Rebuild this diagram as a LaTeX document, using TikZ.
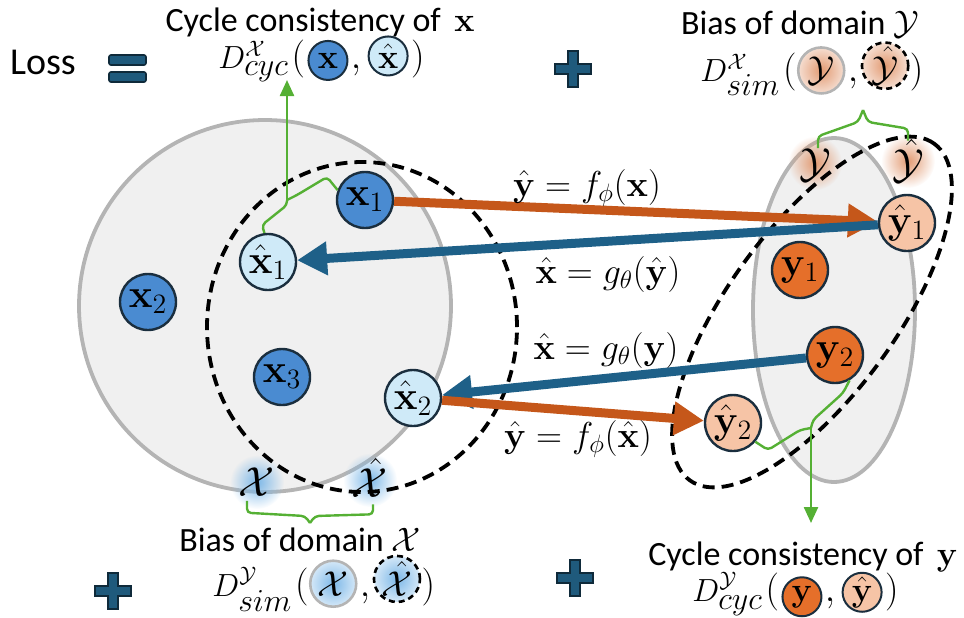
\RequirePackage{fix-cm}
\documentclass[tikz,border=0pt]{standalone}
\usepackage[no-math]{fontspec}
\setmainfont{Carlito}
\usepackage{amsmath}
\usetikzlibrary{arrows.meta,positioning,fadings}
\definecolor{xblue}{HTML}{4A8BD1}
\definecolor{xlight}{HTML}{CFEAF8}
\definecolor{yorange}{HTML}{E56F2A}
\definecolor{ypeach}{HTML}{F6C4A6}
\definecolor{nline}{HTML}{1A2E3E}
\definecolor{orarr}{HTML}{C5571A}
\definecolor{blarr}{HTML}{1E6088}
\definecolor{grline}{HTML}{55B034}
\definecolor{gbg}{HTML}{F0F0F0}
\definecolor{gline}{HTML}{B4B4B4}
\definecolor{eqf}{HTML}{1F5A7C}
\definecolor{eqd}{HTML}{0F2A3A}
\definecolor{glowx}{HTML}{7DB8E8}
\definecolor{glowy}{HTML}{E29A72}
\tikzfading[name=glowfade, inner color=transparent!0, outer color=transparent!100]
\tikzset{
  plus/.pic={\filldraw[fill=eqf, draw=eqd, line width=0.8pt] (-18,-5) -- (-5,-5) -- (-5,-18) -- (5,-18) -- (5,-5) -- (18,-5) -- (18,5) -- (5,5) -- (5,18) -- (-5,18) -- (-5,5) -- (-18,5) -- cycle;}
}

\begin{document}
\begin{tikzpicture}[
  x=0.5pt, y=0.5pt,
  xn/.style={circle, draw=nline, line width=1.2pt, fill=xblue, minimum size=28pt, inner sep=0pt, font=\fontsize{20}{20}\selectfont},
  xh/.style={xn, fill=xlight},
  yn/.style={xn, fill=yorange},
  yh/.style={xn, fill=ypeach},
  sx/.style={circle, draw=nline, line width=1pt, minimum size=19.5pt, inner sep=0pt, font=\fontsize{17}{17}\selectfont},
  sdom/.style={circle, draw=gline, line width=1.3pt, minimum size=23pt, inner sep=0pt, font=\fontsize{18}{18}\selectfont},
  sdomd/.style={sdom, draw=black, dash pattern=on 3pt off 2pt},
  glw/.style={path picture={\fill[#1, path fading=glowfade] (path picture bounding box.center) circle (34);}},
  dfm/.style={inner sep=0pt, font=\fontsize{16}{16}\selectfont},
  par/.style={inner sep=0pt, font=\fontsize{19}{19}\selectfont},
  ttl/.style={inner sep=0pt, font=\fontsize{17}{20}\selectfont},
  lbl/.style={inner sep=0pt, font=\fontsize{18}{18}\selectfont},
  dom/.style={inner sep=0pt, font=\fontsize{21}{21}\selectfont},
  ar/.style={line width=4.5pt, -{Triangle[length=15pt,width=16pt]}},
  orr/.style={ar, orarr},
  blr/.style={ar, blarr},
  grn/.style={grline, line width=1.2pt, rounded corners=2pt},
  dsh/.style={black, line width=1.9pt, dash pattern=on 6pt off 3.5pt}
]
\useasboundingbox (0,0) rectangle (964,-617);

\filldraw[fill=gbg, draw=gline, line width=1.9pt] (265,-306) circle (186);
\filldraw[fill=gbg, draw=gline, line width=1.9pt] (834,-310) ellipse [x radius=81, y radius=172];

\fill[glowx, path fading=glowfade] (257,-482) circle (27);
\fill[glowx, path fading=glowfade] (370,-480) circle (27);
\fill[glowy, path fading=glowfade] (815,-163) circle (27);
\fill[glowy, path fading=glowfade] (908,-161) circle (27);

\draw[dsh] (362,-327) ellipse [x radius=155, y radius=165];
\draw[dsh, rotate around={54:(812,-312)}] (812,-312) ellipse [x radius=208, y radius=84];

\node[dom] (lx) at (257,-482) {$\mathcal{X}$};
\node[dom] (lxh) at (370,-478) {$\hat{\mathcal{X}}$};
\node[dom] (ly) at (815,-165) {$\mathcal{Y}$};
\node[dom] (lyh) at (908,-161) {$\hat{\mathcal{Y}}$};

\node[xn] (x1) at (365,-200) {$\mathbf{x}_1$};
\node[xh] (xh1) at (268,-262) {$\hat{\mathbf{x}}_1$};
\node[xn] (x2) at (148,-302) {$\mathbf{x}_2$};
\node[xn] (x3) at (282,-377) {$\mathbf{x}_3$};
\node[xh] (xh2) at (413,-398) {$\hat{\mathbf{x}}_2$};
\node[yh] (yh1) at (907,-223) {$\hat{\mathbf{y}}_1$};
\node[yn] (y1) at (800,-270) {$\mathbf{y}_1$};
\node[yn] (y2) at (835,-355) {$\mathbf{y}_2$};
\node[yh] (yh2) at (733,-423) {$\hat{\mathbf{y}}_2$};

\draw[orr] (x1) -- (yh1);
\draw[blr] (yh1) -- (xh1);
\draw[blr] (y2) -- (xh2);
\draw[orr] (xh2) -- (yh2);

\node[lbl] (lf1) at (587,-188) {$\hat{\mathbf{y}} = f_\phi(\mathbf{x})$};
\node[lbl] (lg1) at (608,-274) {$\hat{\mathbf{x}} = g_\theta(\hat{\mathbf{y}})$};
\node[lbl] (lg2) at (606,-350) {$\hat{\mathbf{x}} = g_\theta(\mathbf{y})$};
\node[lbl] (lf2) at (578,-439) {$\hat{\mathbf{y}} = f_\phi(\hat{\mathbf{x}})$};

\node[font=\fontsize{19}{20}\selectfont, inner sep=0pt] (loss) at (43,-62) {Loss};
\filldraw[fill=eqf, draw=eqd, line width=0.8pt, rounded corners=1pt] (109,-55) rectangle (146,-65);
\filldraw[fill=eqf, draw=eqd, line width=0.8pt, rounded corners=1pt] (109,-72) rectangle (146,-82);
\pic (pl1) at (573,-69) {plus};
\pic (pl2) at (113,-591) {plus};
\pic (pl3) at (575,-578) {plus};

\node[ttl] (tcx) at (320,-22) {Cycle consistency of \,$\mathbf{x}$};
\node[ttl] (tby) at (800,-24) {Bias of domain $\mathcal{Y}$};
\node[ttl] (tbx) at (300,-540) {Bias of domain $\mathcal{X}$};
\node[ttl] (tcy) at (803,-557) {Cycle consistency of \,$\mathbf{y}$};

\node[dfm, anchor=base west] (dcx) at (218,-68) {$D^{\mathcal{X}}_{\textstyle cyc}$};
\node[par, base right=1pt of dcx] (dcxa) {$($};
\node[sx, fill=xblue, base right=1pt of dcxa] (dcxb) {$\mathbf{x}$};
\node[par, base right=1pt of dcxb] (dcxc) {$,$};
\node[sx, fill=xlight, base right=3pt of dcxc] (dcxd) {$\hat{\mathbf{x}}$};
\node[par, base right=1pt of dcxd] (dcxe) {$)$};

\node[dfm, anchor=base west] (dsy) at (700,-81) {$D^{\mathcal{X}}_{\textstyle sim}$};
\node[par, base right=1pt of dsy] (dsya) {$($};
\node[sdom, glw=glowy, base right=0pt of dsya] (dsyb) {$\mathcal{Y}$};
\node[par, base right=1pt of dsyb] (dsyc) {$,$};
\node[sdomd, glw=glowy, base right=1pt of dsyc] (dsyd) {$\hat{\mathcal{Y}}$};
\node[par, base right=0pt of dsyd] (dsye) {$)$};

\node[dfm, anchor=base west] (dsx) at (212,-596) {$D^{\mathcal{Y}}_{\textstyle sim}$};
\node[par, base right=1pt of dsx] (dsxa) {$($};
\node[sdom, glw=glowx, base right=0pt of dsxa] (dsxb) {$\mathcal{X}$};
\node[par, base right=1pt of dsxb] (dsxc) {$,$};
\node[sdomd, glw=glowx, base right=1pt of dsxc] (dsxd) {$\hat{\mathcal{X}}$};
\node[par, base right=0pt of dsxd] (dsxe) {$)$};

\node[dfm, anchor=base west] (dcy) at (692,-601) {$D^{\mathcal{Y}}_{\textstyle cyc}$};
\node[par, base right=1pt of dcy] (dcya) {$($};
\node[sx, fill=yorange, base right=1pt of dcya] (dcyb) {$\mathbf{y}$};
\node[par, base right=1pt of dcyb] (dcyc) {$,$};
\node[sx, fill=ypeach, base right=3pt of dcyc] (dcyd) {$\hat{\mathbf{y}}$};
\node[par, base right=1pt of dcyd] (dcye) {$)$};

\coordinate (bxt) at (287,-200);
\coordinate (bxe) at (287,-80);
\draw[grn] (xh1.97) -- (262,-225) -- (287,-205) -- (bxt);
\draw[grn] (x1.160) -- (327,-177) -- (297,-195) -- (bxt);
\draw[grn, -{Triangle[length=8pt,width=7pt]}] (bxt) -- (bxe);

\coordinate (byt) at (863,-110);
\draw[grn] (ly.north) ++(3,0) -- ++(0,12) -- (858,-122) -- (byt);
\draw[grn] (lyh.north) ++(0,-2) -- ++(0,12) -- (868,-122) -- (byt);

\coordinate (bxxt) at (310,-523);
\draw[grn] (lx.south) ++(-10,-4) -- ++(0,-12) -- (305,-516) -- (bxxt);
\draw[grn] (lxh.south) ++(3,-6) -- ++(0,-10) -- (315,-516) -- (bxxt);

\coordinate (byyt) at (811,-428);
\coordinate (byye) at (811,-523);
\draw[grn] (y2.-60) -- (843,-393) -- (813,-420) -- (byyt);
\draw[grn] (yh2.-40) -- (768,-450) -- (800,-430) -- (byyt);
\draw[grn, -{Triangle[length=8pt,width=7pt]}] (byyt) -- (byye);
\end{tikzpicture}
\end{document}
